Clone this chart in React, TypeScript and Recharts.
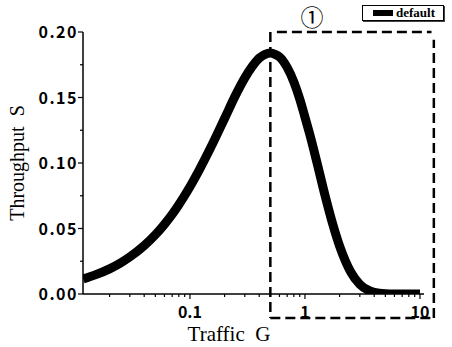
import { LineChart, Line, XAxis, YAxis, ReferenceLine } from 'recharts';

// traffic G (log scale) and throughput S
const trafficG = [0.0118, 0.015, 0.02, 0.025, 0.03, 0.04, 0.05, 0.06, 0.07, 0.08, 0.1, 0.12, 0.15, 0.2, 0.25, 0.3, 0.35, 0.4, 0.45, 0.5, 0.55, 0.6, 0.7, 0.8, 0.9, 1, 1.1, 1.25, 1.5, 1.75, 2, 2.5, 3, 3.5, 4, 5, 6, 8, 10];
const throughputS = [0.0115, 0.0146, 0.0192, 0.0238, 0.0283, 0.0369, 0.0452, 0.0532, 0.0608, 0.0682, 0.0819, 0.0944, 0.111, 0.134, 0.152, 0.165, 0.174, 0.18, 0.183, 0.184, 0.183, 0.181, 0.173, 0.162, 0.149, 0.135, 0.122, 0.103, 0.0747, 0.0528, 0.0366, 0.0168, 0.0074, 0.0032, 0.0013, 0.0002, 0.00004, 0, 0];

const xTicks = [0.02, 0.03, 0.04, 0.05, 0.06, 0.07, 0.08, 0.09, 0.1, 0.2, 0.3, 0.4, 0.5, 0.6, 0.7, 0.8, 0.9, 1, 2, 3, 4, 5, 6, 7, 8, 9, 10];
const xMajor = [0.1, 1, 10];
const yTicks = [0, 0.025, 0.05, 0.075, 0.1, 0.125, 0.15, 0.175, 0.2];
const yMajor = [0, 0.05, 0.1, 0.15, 0.2];

const data = trafficG.map((g, i) => ({ g, s: throughputS[i] }));

const tickFont = '"Noto Sans CJK JP", "DejaVu Sans", sans-serif';
const labelFont = '"Liberation Serif", "DejaVu Serif", serif';

const XTick = ({ x, y, payload }: any) => {
  const major = xMajor.includes(payload.value);
  return (
    <g>
      <line x1={x} x2={x} y1={y} y2={y + (major ? 5 : 3)} stroke="#000" strokeWidth={1.2} />
      {major && (
        <text x={x} y={y + 24} textAnchor="middle" fontFamily={tickFont} fontWeight="bold" fontSize={16} fill="#000">
          {payload.value}
        </text>
      )}
    </g>
  );
};

const YTick = ({ x, y, payload }: any) => {
  const major = yMajor.includes(payload.value);
  return (
    <g>
      <line x1={x - (major ? 5 : 3)} x2={x} y1={y} y2={y} stroke="#000" strokeWidth={1.2} />
      {major && (
        <text x={x - 5} y={y + 6} textAnchor="end" fontFamily={tickFont} fontWeight="bold" fontSize={16} letterSpacing={1.5} fill="#000">
          {payload.value.toFixed(2)}
        </text>
      )}
    </g>
  );
};

const dash = { stroke: '#000', strokeWidth: 2.5, strokeDasharray: '10 5' };

export default function App() {
  return (
    <div style={{ position: 'absolute', left: 0, top: 0, width: 452, height: 347, background: '#fff' }}>
      <LineChart width={452} height={347} data={data} margin={{ top: 32, right: 28, bottom: 23, left: 0 }}>
        <XAxis
          dataKey="g"
          type="number"
          scale="log"
          domain={[0.01175, 10.84]}
          allowDataOverflow
          ticks={xTicks}
          tick={<XTick />}
          tickSize={0}
          tickMargin={0}
          tickLine={false}
          interval={0}
          height={30}
          axisLine={{ stroke: '#000', strokeWidth: 1.5 }}
          label={({ viewBox }: any) => (
            <text
              x={229}
              y={viewBox.y + viewBox.height + 17}
              textAnchor="middle"
              fontFamily={labelFont}
              fontSize={21}
              style={{ whiteSpace: 'pre' }}
              fill="#000"
            >
              {'Traffic  G'}
            </text>
          )}
        />
        <YAxis
          type="number"
          domain={[0, 0.2]}
          allowDataOverflow
          ticks={yTicks}
          tick={<YTick />}
          tickSize={0}
          tickMargin={0}
          tickLine={false}
          interval={0}
          width={83}
          axisLine={{ stroke: '#000', strokeWidth: 1.5 }}
          label={({ viewBox }: any) => (
            <text
              x={24}
              y={viewBox.y + viewBox.height / 2}
              transform={`rotate(-90 24 ${viewBox.y + viewBox.height / 2})`}
              textAnchor="middle"
              fontFamily={labelFont}
              fontSize={20}
              style={{ whiteSpace: 'pre' }}
              fill="#000"
            >
              {'Throughput  S'}
            </text>
          )}
        />
        <ReferenceLine segment={[{ x: 0.5, y: 0.2 }, { x: 0.5, y: -0.0183 }]} ifOverflow="visible" {...dash} />
        <ReferenceLine segment={[{ x: 0.5, y: -0.0183 }, { x: 13.2, y: -0.0183 }]} ifOverflow="visible" {...dash} />
        <ReferenceLine segment={[{ x: 13.2, y: -0.0183 }, { x: 13.2, y: 0.194 }]} ifOverflow="visible" {...dash} />
        <ReferenceLine segment={[{ x: 0.57, y: 0.2 }, { x: 12.6, y: 0.2 }]} ifOverflow="visible" {...dash} />
        <Line
          dataKey="s"
          name="default"
          type="monotone"
          stroke="#000"
          strokeWidth={9}
          dot={false}
          isAnimationActive={false}
        />
      </LineChart>
      <div
        style={{
          position: 'absolute',
          left: 362,
          top: 5,
          width: 82,
          height: 16,
          border: '1px solid #000',
          boxShadow: '1px 1px 0 #444',
          background: '#fff',
          display: 'flex',
          alignItems: 'center',
          paddingLeft: 10,
          gap: 3,
          boxSizing: 'border-box',
        }}
      >
        <div style={{ width: 20, height: 6, background: '#000' }} />
        <span style={{ fontFamily: labelFont, fontWeight: 'bold', fontSize: 13, lineHeight: '16px' }}>default</span>
      </div>
      <div
        style={{
          position: 'absolute',
          left: 294,
          top: 2,
          width: 36,
          textAlign: 'center',
          fontFamily: '"Noto Sans CJK JP", sans-serif',
          fontSize: 23,
          lineHeight: '28px',
        }}
      >
        ①
      </div>
    </div>
  );
}
